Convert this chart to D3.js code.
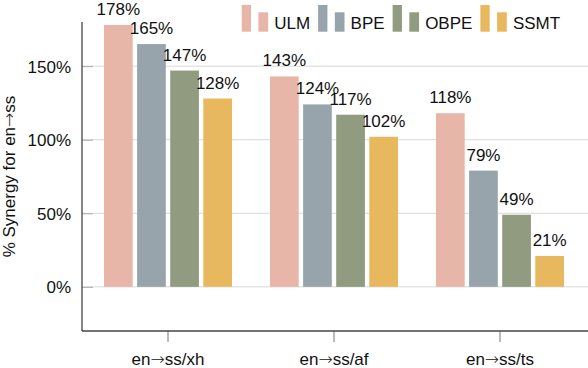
<!DOCTYPE html>
<html>
<head>
<meta charset="utf-8">
<script src="https://cdn.jsdelivr.net/npm/d3@7"></script>
<style>
  body { margin: 0; background: #fff; }
  svg { display: block; font-family: "Liberation Sans", Arial, Helvetica, sans-serif; }
</style>
</head>
<body>
<svg id="chart" width="588" height="368"></svg>
<script>
const categories = ['en\u2192ss/xh', 'en\u2192ss/af', 'en\u2192ss/ts'];
const series = ['ULM', 'BPE', 'OBPE', 'SSMT'];
const ulm = [178, 143, 118];
const bpe = [165, 124, 79];
const obpe = [147, 117, 49];
const ssmt = [128, 102, 21];
const yTicks = [0, 50, 100, 150];
const colors = ['#e8b5a9', '#98a4ab', '#909b80', '#e8b85f'];

const values = [ulm, bpe, obpe, ssmt];

const svg = d3.select('#chart');
const plotLeft = 82, plotRight = 588, plotTop = 22, plotBottom = 331;

// writes a label, drawing the arrow in a thin DejaVu face (long, thin arrow as in the original)
function arrowText(sel, str) {
    sel.text(null);
    str.split(/(\u2192)/).forEach(part => {
        if (!part) return;
        const ts = sel.append('tspan').text(part);
        if (part === '\u2192') {
            ts.attr('font-family', '"DejaVu Sans", sans-serif')
                .attr('font-weight', 200)
                .attr('font-size', 17);
        }
    });
}

const x = d3.scaleBand().domain(categories).range([85, 583]).padding(0);
const xInner = d3.scaleBand().domain(series)
    .range([-64, 64]).paddingInner(0.133).paddingOuter(0);
const y = d3.scaleLinear().domain([-30, 180]).range([plotBottom, plotTop]);

// grid lines
svg.append('g')
    .selectAll('line')
    .data(yTicks)
    .enter()
    .append('line')
    .attr('x1', plotLeft).attr('x2', plotRight)
    .attr('y1', d => y(d)).attr('y2', d => y(d))
    .attr('stroke', '#d9d9d9')
    .attr('stroke-width', 1);

// bars
const groups = svg.append('g')
    .selectAll('g')
    .data(categories)
    .enter()
    .append('g')
    .attr('transform', d => `translate(${x(d) + x.bandwidth() / 2},0)`);

groups.each(function(cat, ci) {
    const g = d3.select(this);
    series.forEach((s, si) => {
        const v = values[si][ci];
        g.append('rect')
            .attr('x', xInner(s))
            .attr('width', xInner.bandwidth())
            .attr('y', y(v))
            .attr('height', y(0) - y(v))
            .attr('fill', colors[si]);
        g.append('text')
            .attr('x', xInner(s) + xInner.bandwidth() / 2)
            .attr('y', y(v) - 10)
            .attr('text-anchor', 'middle')
            .attr('font-size', 17)
            .attr('fill', '#111')
            .text(v + '%');
    });
});

// y axis
const yAxis = d3.axisLeft(y).tickValues(yTicks).tickSize(-11).tickPadding(11)
    .tickFormat(d => d + '%');
const yg = svg.append('g').attr('transform', `translate(${plotLeft},0)`).call(yAxis);
yg.select('.domain').remove();
yg.attr('font-family', null).attr('font-size', null);
yg.selectAll('.tick line').attr('stroke', '#aaa');
yg.selectAll('.tick text').attr('font-size', 17).attr('fill', '#111').attr('dy', '0.36em');

// x axis
const xAxis = d3.axisBottom(x).tickSize(11).tickPadding(11);
const xg = svg.append('g').attr('transform', `translate(0,${plotBottom})`).call(xAxis);
xg.select('.domain').remove();
xg.attr('font-family', null).attr('font-size', null);
xg.selectAll('.tick line').attr('stroke', '#777');
xg.selectAll('.tick text').attr('font-size', 17).attr('fill', '#111').attr('dy', '0.71em')
    .each(function(d) { arrowText(d3.select(this), d); });

// spines
svg.append('line')
    .attr('x1', plotLeft).attr('x2', plotLeft).attr('y1', plotTop).attr('y2', plotBottom)
    .attr('stroke', '#444').attr('stroke-width', 1.3);
svg.append('line')
    .attr('x1', plotLeft).attr('x2', plotRight).attr('y1', plotBottom).attr('y2', plotBottom)
    .attr('stroke', '#444').attr('stroke-width', 1.3);

// y label
svg.append('text')
    .attr('transform', `translate(15,${(plotTop + plotBottom) / 2}) rotate(-90)`)
    .attr('text-anchor', 'middle')
    .attr('font-size', 17)
    .attr('fill', '#111')
    .call(arrowText, '% Synergy for en\u2192ss');

// legend
const legend = svg.append('g');
let lx = 241.7;
series.forEach((s, i) => {
    const item = legend.append('g').attr('transform', `translate(${lx},0)`);
    item.append('rect').attr('x', 0).attr('y', 5).attr('width', 9.3).attr('height', 26.7)
        .attr('fill', colors[i]);
    item.append('rect').attr('x', 16.7).attr('y', 12.3).attr('width', 9.7).attr('height', 19.4)
        .attr('fill', colors[i]);
    const t = item.append('text')
        .attr('x', 32.5).attr('y', 28.5)
        .attr('font-size', 17)
        .attr('fill', '#111')
        .text(s);
    lx += 32.5 + t.node().getComputedTextLength() + 8;
});
</script>
</body>
</html>
